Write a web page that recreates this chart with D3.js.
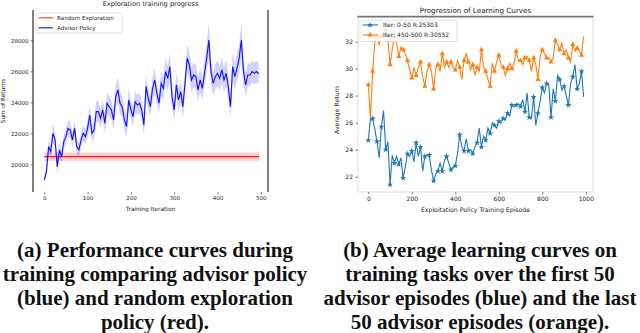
<!DOCTYPE html>
<html><head><meta charset="utf-8">
<script src="https://cdn.jsdelivr.net/npm/d3@7"></script>
<style>body{margin:0;background:#fff}svg{display:block}</style>
</head><body>
<svg id="c" width="640" height="333"></svg>
<script>
// ---------- Data: panel (a) ----------
const advIter = d3.range(0, 500, 5);
const advMean = [18990,19527,21140,20817,22000,21570,19850,20925,20495,21462,
21785,22320,22215,21570,22320,21140,20925,21570,22000,21785,
22320,23180,22000,22215,23400,23400,22970,23505,22645,23935,
23720,23505,22860,24365,24800,23935,23720,22860,22430,24150,
23505,23075,24040,23830,23935,23505,22540,25010,24260,23720,
24900,25440,24580,23935,25225,24900,25980,25550,26300,24365,
23505,25120,24150,24690,23720,25225,26840,26410,25440,25765,
25655,24800,25440,24900,25870,26840,28020,25980,25225,25655,
25870,25550,26085,25440,25870,25010,23720,26300,25655,26190,
26840,28020,25980,25120,25765,25765,25980,25870,25980,25830];
const advStd = [250,300,450,400,600,500,450,500,400,450,
500,550,500,450,550,500,450,450,500,500,
550,700,500,550,700,650,600,650,600,700,
650,600,600,750,800,700,650,650,700,750,
650,600,700,650,650,600,700,800,700,650,
750,800,700,650,800,750,850,800,850,750,
700,800,750,700,700,800,900,850,800,800,
800,750,800,750,850,900,1100,850,800,800,
850,800,850,800,850,800,750,900,850,850,
900,1100,850,800,750,700,700,700,700,700];
const randIter = [0, 496];
const randMean = 20490;
const randStd = 270;
const aXTicks = [0,100,200,300,400,500];
const aYTicks = [20000,22000,24000,26000,28000];

// ---------- Data: panel (b) ----------
const episodes = d3.range(0, 1000, 10);
const earlyReturn = [24.7,26.3,26.3,25.5,24.6,23.4,25.7,26.9,24.0,24.6,
21.4,23.6,23.0,23.5,22.9,23.4,21.9,22.7,23.7,23.5,
23.9,23.1,24.5,23.5,24.2,22.4,23.5,23.6,23.6,22.5,
21.7,22.2,22.4,23.0,22.4,23.2,23.5,23.0,22.5,22.7,
22.8,23.7,25.1,24.2,23.9,24.8,23.9,24.0,23.7,24.2,
24.5,25.6,24.2,25.0,24.7,25.6,25.2,26.0,25.8,25.6,
26.1,26.0,26.3,26.2,26.7,26.5,27.3,27.2,27.3,27.4,
27.2,27.7,26.8,28.2,26.4,26.3,27.9,25.8,26.7,27.6,
28.6,28.2,28.9,28.8,26.4,28.5,27.6,29.5,29.2,28.4,
28.7,28.0,27.3,28.9,29.4,30.3,28.5,28.9,29.8,27.9];
const lateReturn = [28.8,26.3,29.8,32.0,32.4,31.8,32.4,32.7,32.9,32.2,
30.3,31.4,32.4,31.9,30.9,31.6,31.4,31.1,30.6,29.9,
29.3,30.1,29.5,30.1,30.5,29.4,28.7,29.8,30.3,29.8,
28.5,30.0,30.3,29.8,31.1,30.1,30.5,30.1,30.5,30.1,
29.9,30.6,30.1,29.2,30.6,31.1,30.5,29.9,30.3,29.5,
30.1,29.8,31.4,30.1,29.8,29.2,28.7,30.4,29.8,30.5,
31.0,30.3,30.1,29.5,30.0,30.4,30.0,30.4,31.3,30.6,
30.6,30.3,30.8,30.9,30.6,29.8,30.8,30.3,29.2,30.9,
31.4,31.1,30.8,30.8,30.5,30.8,32.1,31.8,31.4,31.9,
31.1,31.4,30.8,30.5,31.8,31.3,31.5,31.3,31.0,32.4];
const bXTicks = [0,200,400,600,800,1000];
const bYTicks = [22,24,26,28,30,32];
const bSeries = [
  {label:"Iter: 0-50 R:25303", values: earlyReturn, color:"#1f77b4", marker:"star"},
  {label:"Iter: 450-500 R:30552", values: lateReturn, color:"#ff7f0e", marker:"tri"}
];
const captionA = ["(a) Performance curves during","training comparing advisor policy","(blue) and random exploration","policy (red)."];
const captionB = ["(b) Average learning curves on","training tasks over the first 50","advisor episodes (blue) and the last","50 advisor episodes (orange)."];

const svg = d3.select("#c");
const F = "DejaVu Sans, sans-serif";
const fmt = d3.format("d");

// ================= Panel (a) =================
{
  const L=33, R=268, T=10, B=192;
  const x = d3.scaleLinear().domain([-26,516.6]).range([L,R]);
  const y = d3.scaleLinear().domain([18213,29955]).range([B,T]);
  const g = svg.append("g");
  g.append("rect").attr("x",x(randIter[0])).attr("width",x(randIter[1])-x(randIter[0]))
    .attr("y",y(randMean+randStd)).attr("height",y(randMean-randStd)-y(randMean+randStd))
    .attr("fill","#ff0000").attr("fill-opacity",0.2);
  g.append("line").attr("x1",x(randIter[0])).attr("x2",x(randIter[1]))
    .attr("y1",y(randMean)).attr("y2",y(randMean)).attr("stroke","#ff2020").attr("stroke-width",1.3);
  const area = d3.area().x((d,i)=>x(advIter[i])).y0((d,i)=>y(advMean[i]-advStd[i])).y1((d,i)=>y(advMean[i]+advStd[i]));
  g.append("path").attr("d",area(advMean)).attr("fill","#3333ff").attr("fill-opacity",0.22);
  const line = d3.line().x((d,i)=>x(advIter[i])).y(d=>y(d));
  g.append("path").attr("d",line(advMean)).attr("fill","none").attr("stroke","#1010ff").attr("stroke-width",1.1);
  g.append("line").attr("x1",L).attr("x2",L).attr("y1",T).attr("y2",B).attr("stroke","#000").attr("stroke-width",1);
  g.append("line").attr("x1",R).attr("x2",R).attr("y1",T).attr("y2",B).attr("stroke","#000").attr("stroke-width",1);
  const xa = g.append("g").attr("transform",`translate(0,${B})`)
    .call(d3.axisBottom(x).tickValues(aXTicks).tickFormat(fmt).tickSize(2.5).tickPadding(2));
  xa.select(".domain").remove();
  const ya = g.append("g").attr("transform",`translate(${L},0)`)
    .call(d3.axisLeft(y).tickValues(aYTicks).tickFormat(fmt).tickSize(2.5).tickPadding(2));
  ya.select(".domain").remove();
  [xa,ya].forEach(a=>a.selectAll("text").attr("font-family",F).attr("font-size",5.5).attr("fill","#222"));
  [xa,ya].forEach(a=>a.selectAll("line").attr("stroke","#333").attr("stroke-width",0.6));
  g.append("text").attr("x",(L+R)/2).attr("y",6).attr("text-anchor","middle")
    .attr("font-family",F).attr("font-size",6.6).attr("fill","#222").text("Exploration training progress");
  g.append("text").attr("x",(L+R)/2).attr("y",211).attr("text-anchor","middle")
    .attr("font-family",F).attr("font-size",5.8).attr("fill","#222").text("Training Iteration");
  g.append("text").attr("transform","translate(5,101) rotate(-90)").attr("text-anchor","middle")
    .attr("font-family",F).attr("font-size",5.8).attr("fill","#222").text("Sum of Returns");
  const lg = g.append("g");
  lg.append("rect").attr("x",36).attr("y",13).attr("width",86).attr("height",20)
    .attr("fill","#fff").attr("fill-opacity",0.85).attr("stroke","#ccc").attr("stroke-width",0.6).attr("rx",1.5);
  [["Random Exploration","#ff5050"],["Advisor Policy","#3030ff"]].forEach((e,i)=>{
    const yy = 17.8 + i*10;
    lg.append("line").attr("x1",38.5).attr("x2",53).attr("y1",yy).attr("y2",yy).attr("stroke",e[1]).attr("stroke-width",1.3);
    lg.append("text").attr("x",57).attr("y",yy+2).attr("font-family",F).attr("font-size",5.6).attr("fill","#222").text(e[0]);
  });
}

// ================= Panel (b) =================
{
  const L=358, R=593, T=16.7, B=192;
  const x = d3.scaleLinear().domain([-47.4,1033]).range([L,R]);
  const y = d3.scaleLinear().domain([20.86,33.85]).range([B,T]);
  const g = svg.append("g");
  g.append("rect").attr("x",L).attr("y",T).attr("width",R-L).attr("height",B-T)
    .attr("fill","none").attr("stroke","#d8d8d8").attr("stroke-width",0.8);
  g.append("line").attr("x1",L-0.5).attr("x2",R+0.5).attr("y1",T).attr("y2",T).attr("stroke","#777").attr("stroke-width",1.8);
  const star = d3.symbol().type(d3.symbolStar).size(12);
  const tri = d3.symbol().type(d3.symbolTriangle).size(12);
  bSeries.forEach(s=>{
    const line = d3.line().x((d,i)=>x(episodes[i])).y(d=>y(d));
    g.append("path").attr("d",line(s.values)).attr("fill","none").attr("stroke",s.color).attr("stroke-width",1.1);
    g.selectAll(null).data(s.values.map((v,i)=>[episodes[i],v]).filter((d,i)=>i%2===0))
      .enter().append("path").attr("d",s.marker==="star"?star():tri())
      .attr("transform",d=>`translate(${x(d[0])},${y(d[1])})`).attr("fill",s.color);
  });
  const xa = g.append("g").attr("transform",`translate(0,${B})`)
    .call(d3.axisBottom(x).tickValues(bXTicks).tickFormat(fmt).tickSize(2.5).tickPadding(2.5));
  xa.select(".domain").remove();
  const ya = g.append("g").attr("transform",`translate(${L},0)`)
    .call(d3.axisLeft(y).tickValues(bYTicks).tickFormat(fmt).tickSize(2.5).tickPadding(2.5));
  ya.select(".domain").remove();
  [xa,ya].forEach(a=>a.selectAll("text").attr("font-family",F).attr("font-size",6).attr("fill","#222"));
  [xa,ya].forEach(a=>a.selectAll("line").attr("stroke","#333").attr("stroke-width",0.6));
  g.append("text").attr("x",(L+R)/2).attr("y",13).attr("text-anchor","middle")
    .attr("font-family",F).attr("font-size",7.2).attr("fill","#222").text("Progression of Learning Curves");
  g.append("text").attr("x",(L+R)/2).attr("y",212).attr("text-anchor","middle")
    .attr("font-family",F).attr("font-size",6.2).attr("fill","#222").text("Exploitation Policy Training Episode");
  g.append("text").attr("transform","translate(339,110) rotate(-90)").attr("text-anchor","middle")
    .attr("font-family",F).attr("font-size",6.2).attr("fill","#222").text("Average Return");
  const lg = g.append("g");
  lg.append("rect").attr("x",360).attr("y",20).attr("width",97).attr("height",21.5)
    .attr("fill","#fff").attr("fill-opacity",0.8).attr("stroke","#ccc").attr("stroke-width",0.6).attr("rx",1.5);
  bSeries.forEach((s,i)=>{
    const yy = 25 + i*10;
    lg.append("line").attr("x1",362.5).attr("x2",378).attr("y1",yy).attr("y2",yy).attr("stroke",s.color).attr("stroke-width",1.1);
    lg.append("path").attr("d",s.marker==="star"?star():tri()).attr("transform",`translate(370,${yy})`).attr("fill",s.color);
    lg.append("text").attr("x",383).attr("y",yy+2).attr("font-family",F).attr("font-size",6).attr("fill","#222").text(s.label);
  });
}

// ================= Captions =================
const CF = "Liberation Serif, Times New Roman, serif";
[[captionA,155],[captionB,480]].forEach(([lines,cx])=>{
  lines.forEach((t,i)=>{
    svg.append("text").attr("x",cx).attr("y",256.5+i*24.2).attr("text-anchor","middle")
      .attr("font-family",CF).attr("font-weight","bold").attr("font-size",21).attr("fill","#111").text(t);
  });
});
</script>
</body></html>
